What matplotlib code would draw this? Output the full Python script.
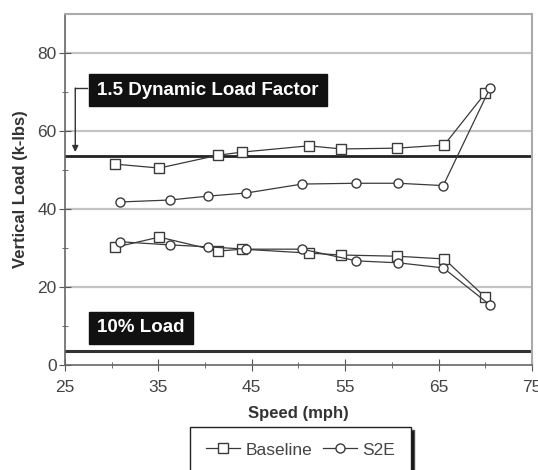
import matplotlib
matplotlib.use("Agg")
from matplotlib import pyplot as plt
import numpy as np

plt.rcParams['font.family'] = ['Liberation Sans', 'DejaVu Sans']

# data
base_speed = [30.4, 35.1, 41.4, 44.0, 51.1, 54.6, 60.5, 65.6, 70.0]
base_upper = [51.5, 50.5, 53.8, 54.6, 56.2, 55.4, 55.6, 56.4, 69.7]
base_lower = [30.2, 32.8, 29.2, 29.7, 28.7, 28.2, 27.9, 27.2, 17.4]

s2e_speed = [30.9, 36.2, 40.3, 44.4, 50.4, 56.2, 60.7, 65.5, 70.5]
s2e_upper = [41.8, 42.3, 43.3, 44.1, 46.4, 46.6, 46.6, 46.0, 71.0]
s2e_lower = [31.6, 30.8, 30.3, 29.7, 29.7, 26.7, 26.2, 24.9, 15.4]

dlf_level = 53.7
ten_pct_level = 3.6

xticks = [25, 35, 45, 55, 65, 75]
yticks = [0, 20, 40, 60, 80]

fig = plt.figure(figsize=(5.38, 4.70), dpi=100)
ax = fig.add_axes([0.1208, 0.2234, 0.868, 0.7468])

ln = '#3a3a3a'
for y in [20, 40, 60, 80]:
    ax.axhline(y, color='#c4c4c4', lw=1.6, zorder=0)
ax.axhline(dlf_level, color='#222222', lw=2.0, zorder=1)
ax.axhline(ten_pct_level, color='#333333', lw=2.2, zorder=1)

style = dict(color=ln, lw=0.9, mfc='white', mec=ln, mew=1.0, ms=6.5, zorder=3)
ax.plot(base_speed, base_upper, marker='s', label='Baseline', **style)
ax.plot(base_speed, base_lower, marker='s', **style)
ax.plot(s2e_speed, s2e_upper, marker='o', label='S2E', **style)
ax.plot(s2e_speed, s2e_lower, marker='o', **style)

ax.set_xlim(25, 75)
ax.set_ylim(0, 90)
ax.set_xticks(xticks)
ax.set_xticks([30, 40, 50, 60, 70], minor=True)
ax.set_yticks(yticks)
ax.set_yticks([10, 30, 50, 70], minor=True)
ax.tick_params(axis='both', which='both', direction='inout', colors='#555555',
               labelcolor='#444444', labelsize=12.5)
ax.tick_params(axis='both', which='major', length=8)
ax.tick_params(axis='both', which='minor', length=5)
ax.tick_params(axis='x', which='major', pad=7)
ax.tick_params(axis='y', which='major', pad=2)

for s in ['top', 'right']:
    ax.spines[s].set_color('#aaaaaa')
    ax.spines[s].set_linewidth(1.5)
for s in ['left', 'bottom']:
    ax.spines[s].set_color('#666666')
    ax.spines[s].set_linewidth(1.2)

ax.set_xlabel('Speed (mph)', fontsize=12, fontweight='bold', color='#333333', labelpad=8)
ax.set_ylabel('Vertical Load (k-lbs)', fontsize=12, fontweight='bold', color='#333333', labelpad=7)

# label boxes
ax.text(28.45, 70.5, '1.5 Dynamic Load Factor', color='white', fontsize=13.5,
        fontweight='bold', va='center', ha='left', zorder=5,
        bbox=dict(boxstyle='square,pad=0.42', fc='#111111', ec='#111111'))
ax.text(28.45, 9.5, '10% Load', color='white', fontsize=13.5,
        fontweight='bold', va='center', ha='left', zorder=5,
        bbox=dict(boxstyle='square,pad=0.42', fc='#111111', ec='#111111'))

ax.plot([27.4, 26.1], [71.0, 71.0], color='#333333', lw=1.0, zorder=4)
ax.annotate('', xy=(26.1, 54.6), xytext=(26.1, 71.0),
            arrowprops=dict(arrowstyle='-|>', color='#333333', lw=1.0,
                            mutation_scale=9, shrinkA=0, shrinkB=0), zorder=4)

leg = fig.legend(loc='upper left', bbox_to_anchor=(0.353, 0.092), ncol=2,
                 fontsize=12.5, frameon=True, fancybox=False, edgecolor='#222222',
                 handlelength=2.0, handletextpad=0.3, columnspacing=0.6,
                 borderpad=0.9, borderaxespad=0,
                 shadow={'facecolor': '#111111', 'alpha': 1.0})
leg.get_frame().set_linewidth(1.0)
for t in leg.get_texts():
    t.set_color('#444444')

fig.savefig('out.png', dpi=100)
